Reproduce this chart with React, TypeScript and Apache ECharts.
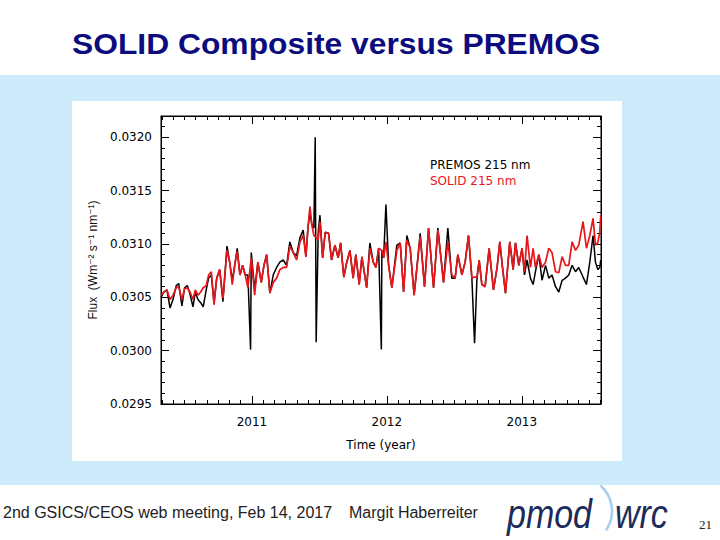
import React, { useEffect, useRef } from 'react';
import * as echarts from 'echarts';

// ---- data (decimal year, flux in W m^-2 s^-1 nm^-1) ----
const time = [
  2010.326, 2010.348, 2010.370, 2010.393, 2010.415, 2010.439, 2010.457, 2010.481, 2010.501, 2010.521,
  2010.541, 2010.563, 2010.580, 2010.600, 2010.620, 2010.639, 2010.661, 2010.679, 2010.699, 2010.719,
  2010.739, 2010.761, 2010.785, 2010.815, 2010.835, 2010.854, 2010.876, 2010.891, 2010.911, 2010.931,
  2010.950, 2010.970, 2010.990, 2010.995, 2011.020, 2011.044, 2011.069, 2011.089, 2011.109, 2011.133,
  2011.158, 2011.183, 2011.207, 2011.232, 2011.257, 2011.281, 2011.306, 2011.331, 2011.356, 2011.380,
  2011.400, 2011.415, 2011.430, 2011.444, 2011.459, 2011.469, 2011.476, 2011.491, 2011.504, 2011.524,
  2011.543, 2011.568, 2011.590, 2011.615, 2011.639, 2011.657, 2011.681, 2011.701, 2011.726, 2011.750,
  2011.770, 2011.795, 2011.815, 2011.850, 2011.874, 2011.899, 2011.919, 2011.939, 2011.959, 2011.963,
  2011.976, 2011.993, 2012.013, 2012.037, 2012.074, 2012.099, 2012.124, 2012.148, 2012.173, 2012.202,
  2012.247, 2012.279, 2012.309, 2012.346, 2012.378, 2012.420, 2012.452, 2012.481, 2012.506, 2012.526,
  2012.556, 2012.580, 2012.605, 2012.630, 2012.650, 2012.667, 2012.684, 2012.704, 2012.728, 2012.758,
  2012.790, 2012.817, 2012.837, 2012.857, 2012.879, 2012.911, 2012.936, 2012.953, 2012.978, 2013.002,
  2013.020, 2013.039, 2013.064, 2013.084, 2013.101, 2013.126, 2013.150, 2013.176, 2013.200, 2013.224,
  2013.250, 2013.274, 2013.299, 2013.324, 2013.348, 2013.373, 2013.398, 2013.422, 2013.454, 2013.479,
  2013.504, 2013.528, 2013.546, 2013.563, 2013.578, 2013.585,
];

const premos = [
  0.03050, 0.03055, 0.03057, 0.03040, 0.03048, 0.03061, 0.03063, 0.03042, 0.03059, 0.03061,
  0.03053, 0.03041, 0.03055, 0.03048, 0.03045, 0.03041, 0.03057, 0.03068, 0.03071, 0.03045,
  0.03068, 0.03076, 0.03046, 0.03098, 0.03083, 0.03066, 0.03083, 0.03096, 0.03071, 0.03080,
  0.03071, 0.03071, 0.03001, 0.03092, 0.03057, 0.03083, 0.03064, 0.03080, 0.03090, 0.03054,
  0.03071, 0.03078, 0.03083, 0.03085, 0.03080, 0.03102, 0.03092, 0.03089, 0.03106, 0.03113,
  0.03088, 0.03115, 0.03130, 0.03118, 0.03115, 0.03200, 0.03008, 0.03111, 0.03127, 0.03087,
  0.03111, 0.03110, 0.03085, 0.03099, 0.03087, 0.03101, 0.03069, 0.03082, 0.03094, 0.03068,
  0.03090, 0.03062, 0.03088, 0.03059, 0.03101, 0.03083, 0.03078, 0.03096, 0.03001, 0.03094,
  0.03087, 0.03137, 0.03080, 0.03059, 0.03099, 0.03101, 0.03055, 0.03108, 0.03096, 0.03052,
  0.03110, 0.03060, 0.03115, 0.03059, 0.03115, 0.03064, 0.03115, 0.03068, 0.03068, 0.03090,
  0.03071, 0.03083, 0.03108, 0.03068, 0.03007, 0.03066, 0.03085, 0.03062, 0.03060, 0.03096,
  0.03057, 0.03078, 0.03102, 0.03078, 0.03054, 0.03102, 0.03076, 0.03101, 0.03080, 0.03096,
  0.03071, 0.03085, 0.03068, 0.03062, 0.03074, 0.03090, 0.03066, 0.03080, 0.03068, 0.03071,
  0.03060, 0.03055, 0.03066, 0.03068, 0.03071, 0.03080, 0.03074, 0.03078, 0.03069, 0.03062,
  0.03083, 0.03108, 0.03083, 0.03076, 0.03078, 0.03085,
];

const solid = [
  0.03052, 0.03055, 0.03057, 0.03048, 0.03052, 0.03059, 0.03060, 0.03048, 0.03058, 0.03059,
  0.03055, 0.03048, 0.03057, 0.03052, 0.03055, 0.03059, 0.03061, 0.03071, 0.03074, 0.03043,
  0.03068, 0.03076, 0.03049, 0.03094, 0.03083, 0.03062, 0.03083, 0.03093, 0.03071, 0.03080,
  0.03071, 0.03059, null, 0.03087, 0.03052, 0.03083, 0.03064, 0.03080, 0.03090, 0.03054,
  0.03064, 0.03068, 0.03076, 0.03078, 0.03078, 0.03098, 0.03092, 0.03085, 0.03102, 0.03108,
  0.03088, 0.03115, 0.03135, 0.03118, 0.03108, null, null, 0.03104, 0.03121, 0.03087,
  0.03111, 0.03110, 0.03085, 0.03099, 0.03087, 0.03101, 0.03069, 0.03082, 0.03094, 0.03068,
  0.03090, 0.03062, 0.03088, 0.03059, 0.03096, 0.03083, 0.03078, 0.03096, null, 0.03094,
  0.03087, 0.03102, 0.03080, 0.03059, 0.03094, 0.03101, 0.03055, 0.03104, 0.03096, 0.03052,
  0.03107, 0.03060, 0.03115, 0.03059, 0.03113, 0.03064, 0.03102, 0.03071, 0.03068, 0.03090,
  0.03071, 0.03083, 0.03108, 0.03068, 0.03069, 0.03069, 0.03085, 0.03062, 0.03060, 0.03096,
  0.03057, 0.03078, 0.03102, 0.03078, 0.03054, 0.03102, 0.03076, 0.03101, 0.03080, 0.03096,
  0.03074, 0.03108, 0.03078, 0.03096, 0.03078, 0.03090, 0.03078, 0.03083, 0.03096, 0.03092,
  0.03074, 0.03073, 0.03088, 0.03080, 0.03080, 0.03102, 0.03094, 0.03099, 0.03121, 0.03096,
  0.03108, 0.03124, 0.03099, 0.03101, 0.03111, 0.03127,
];

const xYearTicks = [2011, 2012, 2013];
const yTickLabels = [0.0295, 0.03, 0.0305, 0.031, 0.0315, 0.032];
const X_MIN = 2010.326;
const X_MAX = 2013.587;
const Y_MIN = 0.0295;
const Y_MAX = 0.0322;

const seriesNames = ['PREMOS 215 nm', 'SOLID 215 nm'];
const titleText = 'SOLID Composite versus PREMOS';
const footerLeft = '2nd GSICS/CEOS web meeting, Feb 14, 2017';
const footerAuthor = 'Margit Haberreiter';
const pageNumber = '21';

// minor tick positions (months and 0.0001 steps)
const monthTicks: number[] = [];
for (let y = 2010; y <= 2013; y++) {
  for (let m = 1; m < 12; m++) {
    const v = y + m / 12;
    if (v >= X_MIN && v <= X_MAX) monthTicks.push(v);
  }
}
const yMinorTicks: number[] = [];
for (let k = 295; k <= 322; k++) {
  if (k % 5 !== 0) yMinorTicks.push(k / 10000);
}

const SANS = '"DejaVu Sans", sans-serif';
const ARIAL = '"Liberation Sans", Arial, "DejaVu Sans", sans-serif';
const RED = '#e8161b';

export default function App() {
  const ref = useRef<HTMLDivElement>(null);

  useEffect(() => {
    if (!ref.current) return;
    const chart = echarts.init(ref.current, undefined, { renderer: 'svg' });

    const xBase = {
      type: 'value',
      min: X_MIN,
      max: X_MAX,
      splitLine: { show: false },
      axisLine: { show: true, onZero: false, lineStyle: { color: '#000', width: 1 } },
    };
    const yBase = {
      type: 'value',
      min: Y_MIN,
      max: Y_MAX,
      splitLine: { show: false },
      axisLine: { show: true, onZero: false, lineStyle: { color: '#000', width: 1 } },
    };

    const option: any = {
      animation: false,
      backgroundColor: '#ffffff',
      grid: {
        left: 161,
        top: 116,
        width: 440,
        height: 288,
        show: true,
        borderColor: '#000',
        borderWidth: 1,
        backgroundColor: 'transparent',
      },
      legend: {
        orient: 'vertical',
        left: 420,
        top: 154,
        itemWidth: 0,
        itemHeight: 0,
        itemGap: 4,
        icon: 'rect',
        selectedMode: false,
        textStyle: { fontFamily: SANS, fontSize: 12 },
        data: [
          { name: seriesNames[0], textStyle: { color: '#000' } },
          { name: seriesNames[1], textStyle: { color: RED } },
        ],
      },
      xAxis: [
        {
          ...xBase,
          position: 'bottom',
          axisTick: { show: true, inside: true, length: 8, customValues: xYearTicks, lineStyle: { color: '#000' } },
          axisLabel: {
            show: true,
            customValues: xYearTicks,
            formatter: (v: number) => String(Math.round(v)),
            margin: 12,
            color: '#000',
            fontFamily: SANS,
            fontSize: 12,
          },
          name: 'Time (year)',
          nameLocation: 'middle',
          nameGap: 35,
          nameTextStyle: { color: '#000', fontFamily: SANS, fontSize: 12 },
        },
        {
          ...xBase,
          position: 'bottom',
          axisLine: { show: false },
          axisLabel: { show: false },
          axisTick: { show: true, inside: true, length: 4, customValues: monthTicks, lineStyle: { color: '#000' } },
        },
        {
          ...xBase,
          position: 'top',
          axisLabel: { show: false },
          axisTick: { show: true, inside: true, length: 8, customValues: xYearTicks, lineStyle: { color: '#000' } },
        },
        {
          ...xBase,
          position: 'top',
          axisLine: { show: false },
          axisLabel: { show: false },
          axisTick: { show: true, inside: true, length: 4, customValues: monthTicks, lineStyle: { color: '#000' } },
        },
      ],
      yAxis: [
        {
          ...yBase,
          position: 'left',
          axisTick: { show: true, inside: true, length: 8, customValues: yTickLabels, lineStyle: { color: '#000' } },
          axisLabel: {
            show: true,
            customValues: yTickLabels,
            formatter: (v: number) => v.toFixed(4),
            margin: 9,
            color: '#000',
            fontFamily: SANS,
            fontSize: 12,
          },
          name: 'Flux  (Wm\u207B\u00B2 s\u207B\u00B9 nm\u207B\u00B9)',
          nameLocation: 'middle',
          nameGap: 60,
          nameTextStyle: { color: '#111', fontFamily: ARIAL, fontSize: 12 },
        },
        {
          ...yBase,
          position: 'left',
          axisLine: { show: false },
          axisLabel: { show: false },
          axisTick: { show: true, inside: true, length: 4, customValues: yMinorTicks, lineStyle: { color: '#000' } },
        },
        {
          ...yBase,
          position: 'right',
          axisLabel: { show: false },
          axisTick: { show: true, inside: true, length: 8, customValues: yTickLabels, lineStyle: { color: '#000' } },
        },
        {
          ...yBase,
          position: 'right',
          axisLine: { show: false },
          axisLabel: { show: false },
          axisTick: { show: true, inside: true, length: 4, customValues: yMinorTicks, lineStyle: { color: '#000' } },
        },
      ],
      series: [
        {
          name: seriesNames[0],
          type: 'line',
          xAxisIndex: 0,
          yAxisIndex: 0,
          showSymbol: false,
          symbol: 'none',
          data: time.map((t, i) => [t, premos[i]]),
          lineStyle: { color: '#000', width: 1.5 },
          itemStyle: { color: '#000' },
          z: 3,
        },
        {
          name: seriesNames[1],
          type: 'line',
          xAxisIndex: 0,
          yAxisIndex: 0,
          showSymbol: false,
          symbol: 'none',
          connectNulls: true,
          data: time.map((t, i) => [t, solid[i]]),
          lineStyle: { color: RED, width: 1.7 },
          itemStyle: { color: RED },
          z: 4,
        },
      ],
      graphic: [
        { type: 'rect', z: -10, shape: { x: 0, y: 75, width: 720, height: 410 }, style: { fill: '#cdebfa' } },
        { type: 'rect', z: -9, shape: { x: 72, y: 101, width: 550, height: 360 }, style: { fill: '#ffffff' } },
        {
          type: 'text',
          x: 72,
          y: 44,
          scaleX: 1.06,
          style: {
            text: titleText,
            fill: '#0c0c7e',
            fontFamily: ARIAL,
            fontWeight: 'bold',
            fontSize: 30,
            verticalAlign: 'middle',
            align: 'left',
          },
        },
        {
          type: 'text',
          x: 3,
          y: 512,
          style: { text: footerLeft, fill: '#222', fontFamily: ARIAL, fontSize: 16, verticalAlign: 'middle' },
        },
        {
          type: 'text',
          x: 349,
          y: 512,
          style: { text: footerAuthor, fill: '#222', fontFamily: ARIAL, fontSize: 16, verticalAlign: 'middle' },
        },
        {
          type: 'text',
          x: 507,
          y: 514,
          scaleX: 0.85,
          style: {
            text: 'pmod',
            fill: '#1c2b5a',
            fontFamily: ARIAL,
            fontStyle: 'italic',
            fontSize: 40,
            verticalAlign: 'middle',
          },
        },
        {
          type: 'arc',
          shape: { cx: 578, cy: 511, r: 34, startAngle: -0.85, endAngle: 0.6, clockwise: true },
          style: { stroke: '#a9cbed', lineWidth: 2.5, fill: 'none' },
        },
        {
          type: 'text',
          x: 615,
          y: 514,
          scaleX: 0.85,
          style: {
            text: 'wrc',
            fill: '#1c2b5a',
            fontFamily: ARIAL,
            fontStyle: 'italic',
            fontSize: 40,
            verticalAlign: 'middle',
          },
        },
        {
          type: 'text',
          x: 699,
          y: 524,
          style: {
            text: pageNumber,
            fill: '#222',
            fontFamily: '"Liberation Serif", "DejaVu Serif", serif',
            fontSize: 13,
            verticalAlign: 'middle',
          },
        },
      ],
    };

    chart.setOption(option);
    return () => chart.dispose();
  }, []);

  return (
    <div
      ref={ref}
      style={{ position: 'fixed', left: 0, top: 0, width: 720, height: 540, background: '#fff' }}
    />
  );
}
